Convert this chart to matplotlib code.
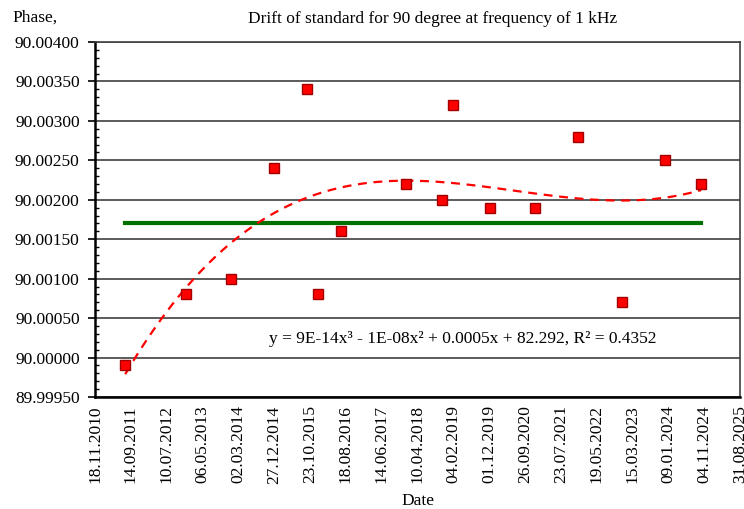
import numpy as np
import matplotlib
matplotlib.use("Agg")
import matplotlib.pyplot as plt
import matplotlib.dates as mdates
from matplotlib.ticker import MultipleLocator, FormatStrFormatter
from datetime import datetime

plt.rcParams['font.family'] = ['Liberation Serif', 'DejaVu Serif']

dates = ['29.07.2011', '20.12.2012', '01.01.2014', '24.12.2014', '01.10.2015',
         '01.01.2016', '07.07.2016', '01.01.2018', '01.11.2018', '01.02.2019',
         '10.12.2019', '15.12.2020', '15.12.2021', '20.12.2022', '15.12.2023',
         '10.10.2024']
phase = [89.99990, 90.00080, 90.00100, 90.00240, 90.00340,
         90.00080, 90.00160, 90.00220, 90.00200, 90.00320,
         90.00190, 90.00190, 90.00280, 90.00070, 90.00250,
         90.00220]
nominal = 90.00170

x_ticks = ['18.11.2010', '14.09.2011', '10.07.2012', '06.05.2013', '02.03.2014',
           '27.12.2014', '23.10.2015', '18.08.2016', '14.06.2017', '10.04.2018',
           '04.02.2019', '01.12.2019', '26.09.2020', '23.07.2021', '19.05.2022',
           '15.03.2023', '09.01.2024', '04.11.2024', '31.08.2025']

equation = 'y = 9E-14x³ - 1E-08x² + 0.0005x + 82.292, R² = 0.4352'


def to_num(s):
    return mdates.date2num(datetime.strptime(s, '%d.%m.%Y'))


x = np.array([to_num(d) for d in dates])
y = np.array(phase)
xt = [to_num(d) for d in x_ticks]

fig = plt.figure(figsize=(7.44, 5.09), dpi=100)
ax = fig.add_axes([0.1277, 0.22, 0.867, 0.6975])

ax.set_ylim(89.9995, 90.004)
ax.set_xlim(xt[0], xt[-1])
ax.yaxis.set_major_locator(MultipleLocator(0.0005))
ax.yaxis.set_minor_locator(MultipleLocator(0.0001))
ax.yaxis.set_major_formatter(FormatStrFormatter('%.5f'))
ax.set_xticks(xt)
ax.set_xticklabels(x_ticks, rotation=90, fontsize=12.5)
ax.tick_params(axis='x', length=0, pad=6)
ax.tick_params(axis='y', which='major', direction='out', length=5, width=1.2, labelsize=12.5, pad=6)
ax.tick_params(axis='y', which='minor', direction='in', length=3, width=1)

ax.grid(axis='y', which='major', color='#404040', linewidth=1.2)
ax.set_axisbelow(True)
for side in ['top', 'right']:
    ax.spines[side].set_color('#404040')
    ax.spines[side].set_linewidth(1.2)
ax.spines['left'].set_linewidth(1.8)
ax.spines['bottom'].set_linewidth(1.8)

# polynomial trend (order 3), fitted in days from first point for stability
t0 = x[0]
coef = np.polyfit(x - t0, y, 3)
xs = np.linspace(x[0], x[-1], 200)
ax.plot(xs, np.polyval(coef, xs - t0), color='red', linestyle=(0, (4, 3)), linewidth=1.6, zorder=3)

ax.plot([x[0], x[-1]], [nominal, nominal], color='#007000', linewidth=3, zorder=2)

ax.plot(x, y, linestyle='none', marker='s', markersize=7.5, markerfacecolor='red',
        markeredgecolor='#a00000', markeredgewidth=1, zorder=4)

ax.text(to_num('15.11.2014'), 90.00023, equation, fontsize=12.5, va='center')

fig.text(433 / 744, 1 - 19 / 509, 'Drift of standard for 90 degree at frequency of 1 kHz',
         ha='center', va='center', fontsize=12.5)
fig.text(12 / 744, 1 - 18 / 509, 'Phase,', ha='left', va='center', fontsize=12.5)
ax.set_xlabel('Date', fontsize=12.5, labelpad=7)

fig.savefig('out.png', dpi=100)
